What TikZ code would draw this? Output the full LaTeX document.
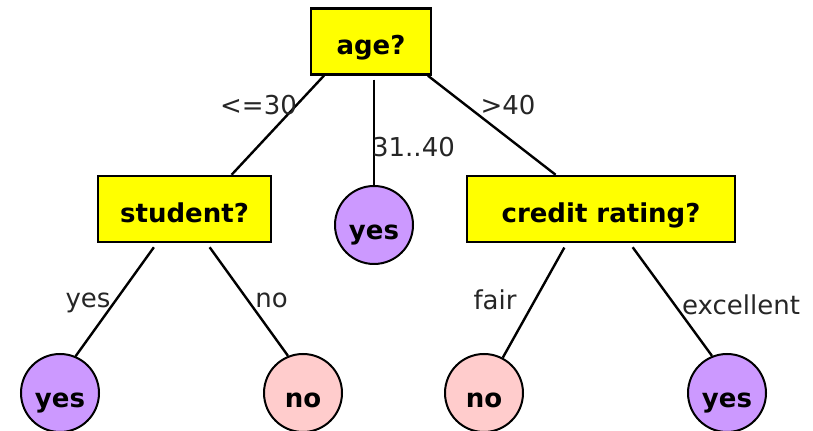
\documentclass[tikz,border=0pt]{standalone}
\usepackage{fontspec}
\setmainfont{DejaVu Sans}
\usetikzlibrary{positioning}
\definecolor{testfill}{RGB}{255,255,0}
\definecolor{leafyes}{RGB}{204,153,255}
\definecolor{leafno}{RGB}{255,204,204}
\tikzset{every node/.style={font=\fontsize{13}{15}\selectfont}, % same text size everywhere
test/.style={ % Sets the properties for each attribute test
draw,
line width=1.2pt,
fill=testfill,
minimum height=33pt,
text height=1.35em, text depth=0pt,
font=\fontsize{13}{15}\selectfont\bfseries},
leaf/.style={ % Sets the properties for each class leaf
circle,
draw,
line width=1pt,
minimum size=39pt,
inner sep=0.5pt,
text height=1.45em, text depth=0pt,
font=\fontsize{13}{15}\selectfont\bfseries},
branch/.style={ % Sets the properties for each branch
draw,
line width=1.2pt},
cond/.style={anchor=base, inner sep=0pt, text=black!85}}

\begin{document}
\begin{tikzpicture}[x=0.5pt, y=-0.5pt]
                \useasboundingbox (0,0) rectangle (813,431);
                \node[test, minimum width=60pt] (age) at (371,41.5) {age?};
                \node[test, minimum width=86.5pt] (student) at (184.5,209) {student?};
                \node[test, minimum width=134pt] (credit) at (601,209) {credit rating?};
                \node[leaf, fill=leafyes] (mid) at (374,225) {yes};
                \node[leaf, fill=leafyes] (yesA) at (60,393) {yes};
                \node[leaf, fill=leafno] (noA) at (303,393) {no};
                \node[leaf, fill=leafno] (noB) at (484,393) {no};
                \node[leaf, fill=leafyes] (yesB) at (727,393) {yes};

                \draw[branch] (age.216) -- (student.36);
                \draw[branch, shorten <=2pt] (age.south -| mid) -- (mid.north);
                \draw[branch] (age.-31) -- (credit.143);
                \draw[branch, shorten <=2.5pt] (student.231) -- (yesA.67);
                \draw[branch, shorten <=2.5pt] (student.-57) -- (noA.112);
                \draw[branch, shorten <=2.5pt] (credit.225) -- (noB.62);
                \draw[branch, shorten <=2.5pt] (credit.-50) -- (yesB.112);

                \node[cond] (le30) at (258.5,115) {<=30};
                \node[cond] (mid40) at (413.5,157) {31..40};
                \node[cond] (gt40) at (508,115) {>40};
                \node[cond] (syes) at (88,308) {yes};
                \node[cond] (sno) at (271.5,308) {no};
                \node[cond] (cfair) at (495,310) {fair};
                \node[cond] (cexc) at (741,315) {excellent};
            \end{tikzpicture}
\end{document}
